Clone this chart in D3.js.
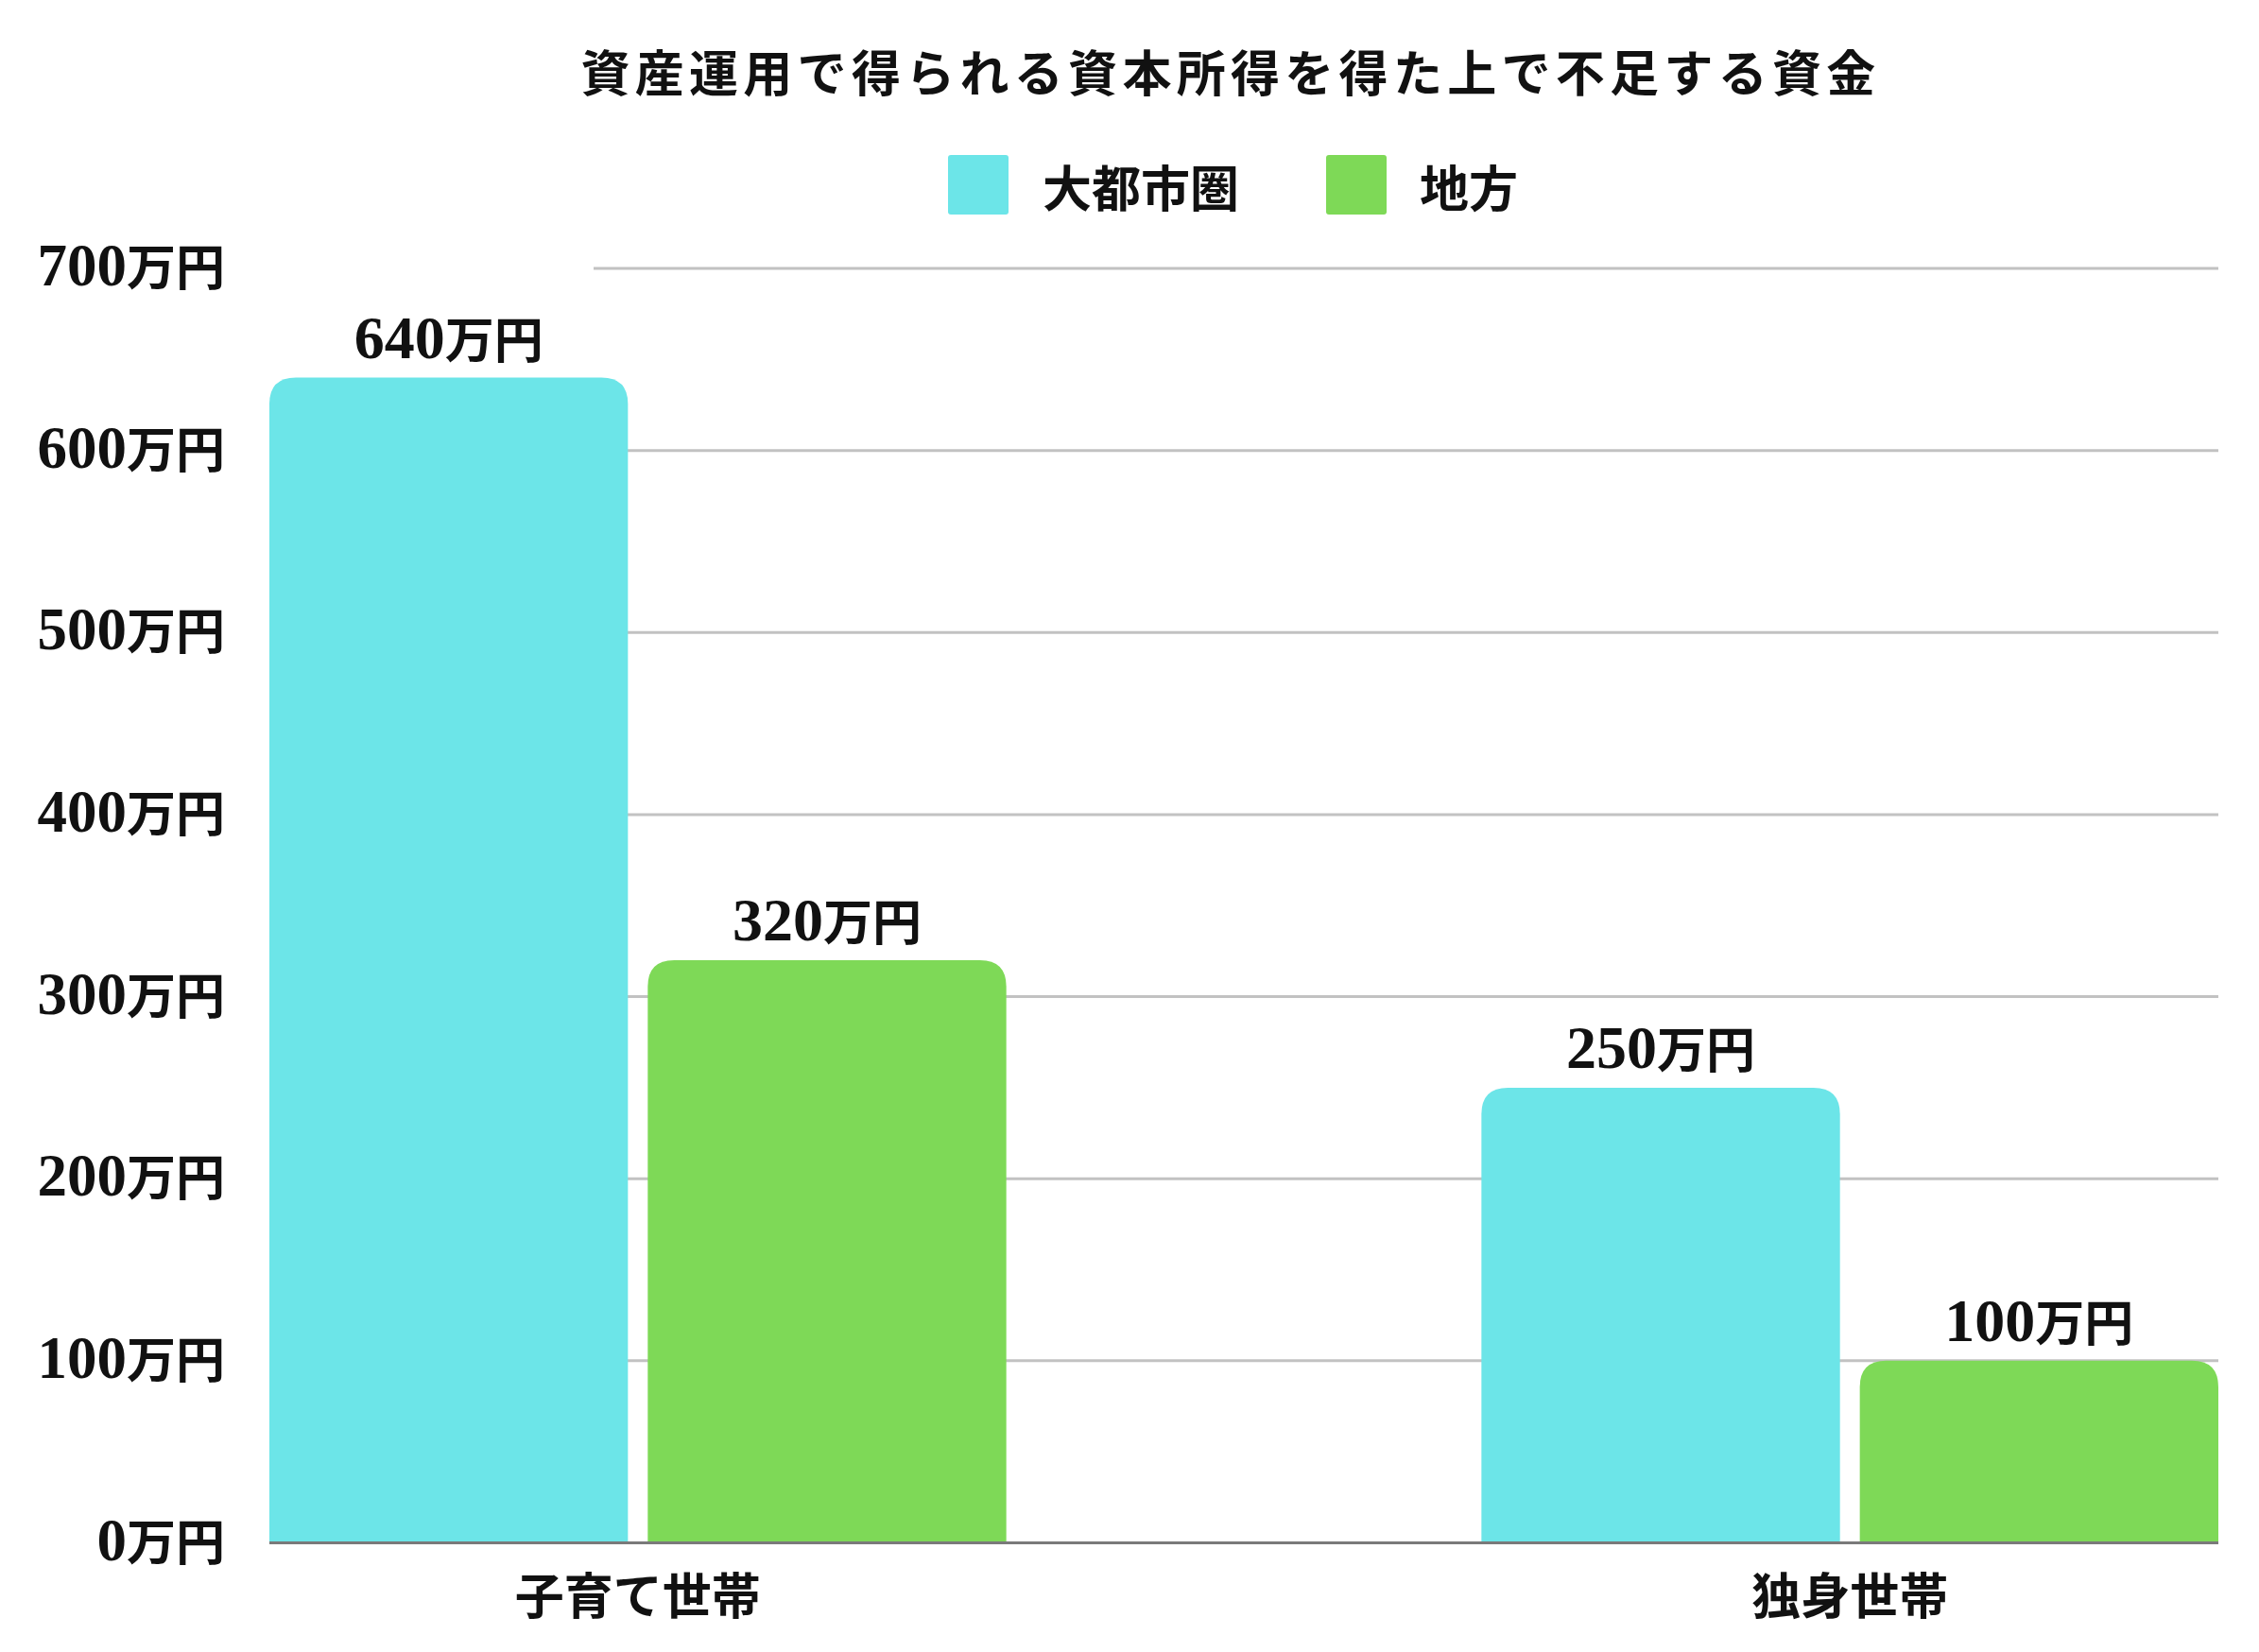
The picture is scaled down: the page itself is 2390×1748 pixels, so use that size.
<!DOCTYPE html>
<html>
<head>
<meta charset="utf-8">
<script src="https://cdn.jsdelivr.net/npm/d3@7"></script>
<style>
  html, body { margin: 0; padding: 0; background: #fff; }
  svg { display: block; }
</style>
</head>
<body>
<svg id="chart" width="2390" height="1748"></svg>
<script>
const title = "資産運用で得られる資本所得を得た上で不足する資金";
const categories = ["子育て世帯", "独身世帯"];
const seriesNames = ["大都市圏", "地方"];
const seriesColors = ["#6ce5e8", "#7ed957"];
const metroValues = [640, 250];
const localValues = [320, 100];
const yTicks = [0, 100, 200, 300, 400, 500, 600, 700];
const unit = "万円";

const data = categories.map((c, i) => ({
  category: c,
  values: [
    { series: seriesNames[0], value: metroValues[i] },
    { series: seriesNames[1], value: localValues[i] }
  ]
}));

const svg = d3.select("#chart");
const plot = { left: 285, right: 2347, top: 284, bottom: 1632.5 };

const y = d3.scaleLinear().domain([0, 700]).range([plot.bottom, plot.top]);
const x0 = d3.scaleBand().domain(categories).range([plot.left, plot.right])
  .paddingInner(0.392).paddingOuter(0);
const x1 = d3.scaleBand().domain(seriesNames).range([0, x0.bandwidth()])
  .paddingInner(0.0524).paddingOuter(0);
const color = d3.scaleOrdinal().domain(seriesNames).range(seriesColors);

const digitFont = "'Liberation Serif', 'DejaVu Serif', serif";
const cjkFont = "'Noto Sans CJK JP', 'Noto Sans CJK SC', sans-serif";

function mixedText(sel, str, digitSize, cjkSize) {
  const parts = str.match(/[0-9]+|[^0-9]+/g) || [];
  parts.forEach(p => {
    const isDigit = /^[0-9]+$/.test(p);
    sel.append("tspan")
      .attr("font-family", isDigit ? digitFont : cjkFont)
      .attr("font-size", isDigit ? digitSize : cjkSize)
      .attr("font-weight", 700)
      .text(p);
  });
}

// Title
svg.append("text")
  .attr("x", 1302).attr("y", 74)
  .attr("text-anchor", "middle")
  .attr("dominant-baseline", "central")
  .attr("font-family", cjkFont)
  .attr("font-weight", 700)
  .attr("font-size", 52)
  .attr("letter-spacing", 5.3)
  .attr("fill", "#111")
  .text(title);

// Legend
const legendPos = [{ x: 1003, tx: 1103 }, { x: 1403, tx: 1502 }];
seriesNames.forEach((s, i) => {
  svg.append("rect")
    .attr("x", legendPos[i].x).attr("y", 164)
    .attr("width", 64).attr("height", 63)
    .attr("rx", 3)
    .attr("fill", color(s));
  svg.append("text")
    .attr("x", legendPos[i].tx).attr("y", 196)
    .attr("dominant-baseline", "central")
    .attr("font-family", cjkFont)
    .attr("font-weight", 700)
    .attr("font-size", 52)
    .attr("fill", "#111")
    .text(s);
});

// Gridlines
svg.append("g").selectAll("line")
  .data(yTicks.filter(t => t > 0))
  .join("line")
  .attr("x1", 628).attr("x2", plot.right)
  .attr("y1", d => y(d)).attr("y2", d => y(d))
  .attr("stroke", "#c2c2c2")
  .attr("stroke-width", 3);

// Y tick labels
const yLab = svg.append("g").selectAll("text")
  .data(yTicks)
  .join("text")
  .attr("x", 238)
  .attr("y", d => y(d) + 18)
  .attr("text-anchor", "end")
  .attr("fill", "#111");
yLab.each(function(d) { mixedText(d3.select(this), d + unit, 63, 52); });

// Bars with rounded top corners
const r = 28;
function topRounded(xp, yp, w, h) {
  const rr = Math.min(r, h, w / 2);
  return `M${xp},${yp + h}V${yp + rr}Q${xp},${yp} ${xp + rr},${yp}H${xp + w - rr}Q${xp + w},${yp} ${xp + w},${yp + rr}V${yp + h}Z`;
}

const groups = svg.append("g").selectAll("g")
  .data(data)
  .join("g")
  .attr("transform", d => `translate(${x0(d.category)},0)`);

groups.selectAll("path")
  .data(d => d.values)
  .join("path")
  .attr("d", d => topRounded(x1(d.series), y(d.value), x1.bandwidth(), y(0) - y(d.value)))
  .attr("fill", d => color(d.series));

// Value labels
groups.selectAll("text.val")
  .data(d => d.values)
  .join("text")
  .attr("class", "val")
  .attr("x", d => x1(d.series) + x1.bandwidth() / 2)
  .attr("y", d => y(d.value) - 21)
  .attr("text-anchor", "middle")
  .attr("fill", "#111")
  .each(function(d) { mixedText(d3.select(this), d.value + unit, 64, 52); });

// Baseline
svg.append("line")
  .attr("x1", plot.left).attr("x2", plot.right)
  .attr("y1", y(0)).attr("y2", y(0))
  .attr("stroke", "#7a7a7a")
  .attr("stroke-width", 3);

// X axis labels
svg.append("g").selectAll("text")
  .data(categories)
  .join("text")
  .attr("x", d => x0(d) + x0.bandwidth() / 2)
  .attr("y", 1685)
  .attr("text-anchor", "middle")
  .attr("dominant-baseline", "central")
  .attr("font-family", cjkFont)
  .attr("font-weight", 700)
  .attr("font-size", 52)
  .attr("fill", "#111")
  .text(d => d);
</script>
</body>
</html>
